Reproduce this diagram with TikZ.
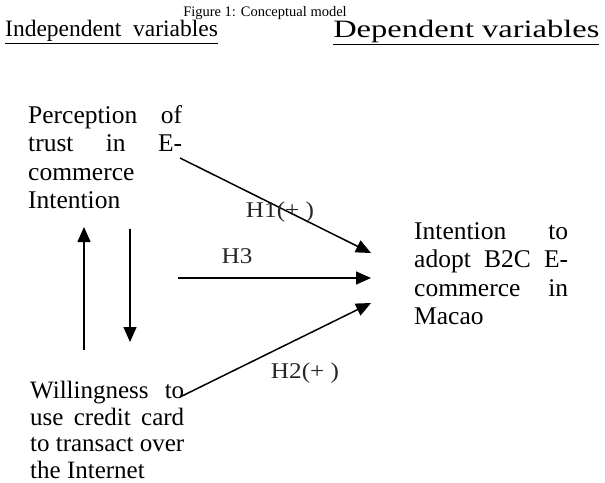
\documentclass[tikz,border=0pt]{standalone}
\usepackage{fontspec}
\setmainfont{Liberation Serif}
\usetikzlibrary{arrows.meta}
\newcommand{\jline}[1]{\hbox to 154pt{#1}}
\begin{document}
\begin{tikzpicture}[x=1pt,y=-1pt,
  body/.style={inner sep=0pt,anchor=north west,align=left,font=\fontsize{25.5}{28.5}\selectfont},
  hlabel/.style={inner sep=0pt,font=\fontsize{22.5}{24}\selectfont,text=black!85,xscale=1.12,transform shape},
  head/.style={inner sep=0pt,anchor=west,font=\fontsize{23.5}{28}\selectfont},
  conn/.style={line width=1.5pt,-{Triangle[length=15pt,width=13pt]}}]
\useasboundingbox (0,0) rectangle (605,482);
\node[inner sep=0pt,font=\fontsize{14.5}{16}\selectfont] (title) at (265,13) {Figure 1: Conceptual model};
\node[head] (indep) at (5,32) {\underline{Independent\ \ variables}};
\node[head,font=\fontsize{25}{28}\selectfont,xscale=1.3,transform shape] (dep) at (333,32) {\underline{Dependent variables}};
\node[body] (perc) at (28,105) {\jline{Perception\hfill of}\\\jline{trust\hfill in\hfill E-}\\commerce\\Intention};
\node[body] (intent) at (414,222) {\jline{Intention\hfill to}\\\jline{adopt\hfill B2C\hfill E-}\\\jline{commerce\hfill in}\\Macao};
\node[body,font=\fontsize{25}{26.5}\selectfont] (will) at (30,381) {\jline{Willingness\hfill to}\\\jline{use\hfill credit\hfill card}\\\jline{to\hfill transact\hfill over}\\the Internet};
\coordinate (h1s) at (180,158);
\coordinate (h1e) at (371,253);
\coordinate (h3s) at (178,278);
\coordinate (h3e) at (371,278);
\coordinate (h2s) at (180,397);
\coordinate (h2e) at (371,303);
\coordinate (ups) at (84,350);
\coordinate (upe) at (84,227);
\coordinate (dns) at (130,229);
\coordinate (dne) at (130,342);
\draw[conn] (h1s) -- (h1e);
\draw[conn] (h3s) -- (h3e);
\draw[conn] (h2s) -- (h2e);
\draw[conn] (ups) -- (upe);
\draw[conn] (dns) -- (dne);
\node[hlabel] (l1) at (280,212) {H1(+\ )};
\node[hlabel] (l3) at (237,256) {H3};
\node[hlabel] (l2) at (305,373) {H2(+\ )};
\end{tikzpicture}
\end{document}
